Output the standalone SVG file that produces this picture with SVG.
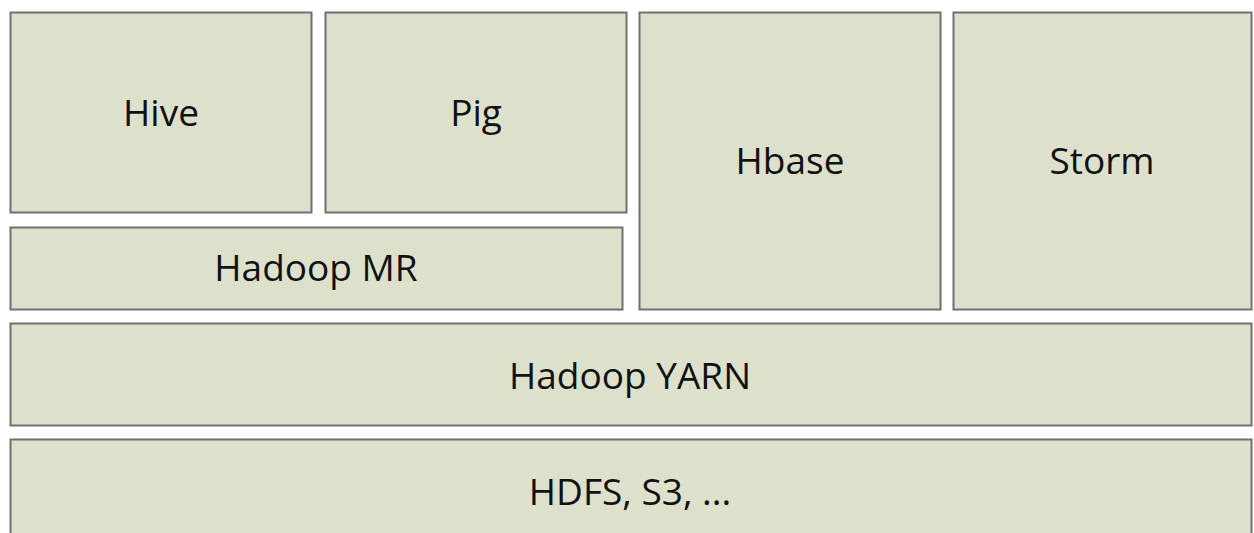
<svg xmlns="http://www.w3.org/2000/svg" width="1254" height="533" viewBox="0 0 1254 533">
<style>
.b{fill:#dde0cb;stroke:#707070;stroke-width:2}
.t{font-family:"Open Sans","Noto Sans",sans-serif;font-size:37px;fill:#111;text-anchor:middle}
</style>
<rect width="1254" height="533" fill="#fff"/>
<g id="hive"><rect class="b" x="10.5" y="12.5" width="301" height="200"/><text class="t" x="161" y="126">Hive</text></g>
<g id="pig"><rect class="b" x="325.5" y="12.5" width="301" height="200"/><text class="t" x="476" y="126">Pig</text></g>
<g id="hadoopmr"><rect class="b" x="10.5" y="227.5" width="612" height="82"/><text class="t" x="316" y="281">Hadoop MR</text></g>
<g id="hbase"><rect class="b" x="639.5" y="12.5" width="301" height="297"/><text class="t" x="790" y="174">Hbase</text></g>
<g id="storm"><rect class="b" x="953.5" y="12.5" width="298" height="297"/><text class="t" x="1102" y="174">Storm</text></g>
<g id="yarn"><rect class="b" x="10.5" y="323.5" width="1241" height="102"/><text class="t" x="630" y="389">Hadoop YARN</text></g>
<g id="hdfs"><rect class="b" x="10.5" y="439.5" width="1241" height="110"/><text class="t" x="630" y="505">HDFS, S3, ...</text></g>
<g id="connectors"></g>
</svg>
